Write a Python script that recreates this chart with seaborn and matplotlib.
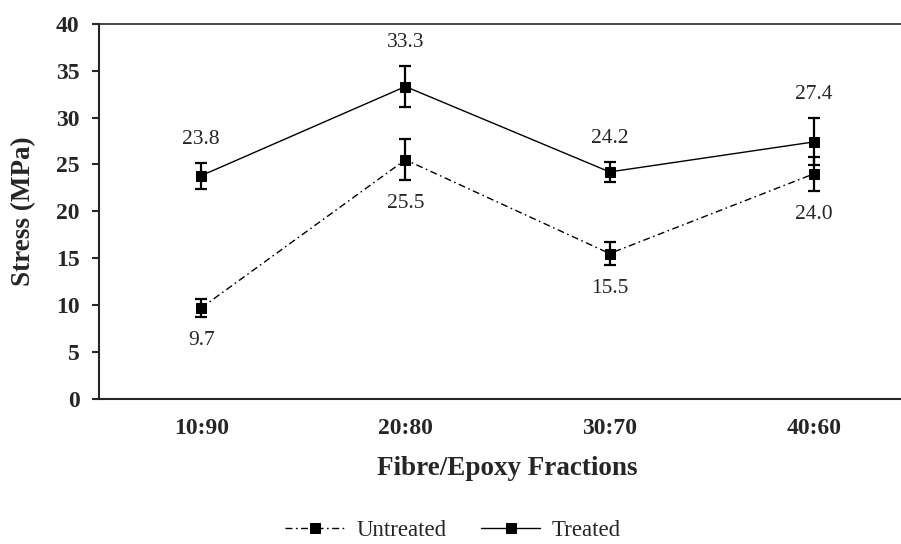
import pandas as pd
import seaborn as sns
import matplotlib.pyplot as plt
import matplotlib

# data
fractions = ["10:90", "20:80", "30:70", "40:60"]
untreated = [9.7, 25.5, 15.5, 24.0]
untreated_err = [1.0, 2.2, 1.2, 1.8]
treated = [23.8, 33.3, 24.2, 27.4]
treated_err = [1.4, 2.2, 1.1, 2.5]

df = pd.DataFrame({
    "Fraction": fractions * 2,
    "Stress": untreated + treated,
    "Series": ["Untreated"] * 4 + ["Treated"] * 4,
})

sns.set_style("ticks")
plt.rcParams['font.family'] = ['Liberation Serif', 'DejaVu Serif']

fig = plt.figure(figsize=(9.01, 5.44), dpi=100)
ax = fig.add_axes([0.1099, 0.2665, 0.9068, 0.690])

sns.lineplot(data=df, x="Fraction", y="Stress", style="Series",
             style_order=["Untreated", "Treated"],
             markers={"Untreated": "s", "Treated": "s"},
             dashes={"Untreated": (5, 2.5, 1.2, 2.5), "Treated": ""},
             color="black", linewidth=1.0, markersize=7,
             markeredgecolor="black", ax=ax, sort=False)

xpos = list(range(len(fractions)))
ax.errorbar(xpos, untreated, yerr=untreated_err, fmt="none", ecolor="black",
            elinewidth=1.6, capsize=4, capthick=1.6, zorder=3)
ax.errorbar(xpos, treated, yerr=treated_err, fmt="none", ecolor="black",
            elinewidth=1.6, capsize=4, capthick=1.6, zorder=3)

# value labels: treated above, untreated below
for x, v, e in zip(xpos, treated, treated_err):
    ax.text(x, v + e + 2.5, f"{v:.1f}", ha="center", va="center", fontsize=15.5)
for x, v, e in zip(xpos, untreated, untreated_err):
    ax.text(x, v - e - 2.5, f"{v:.1f}", ha="center", va="center", fontsize=15.5)

ax.set_xlim(-0.5, 3.5)
ax.set_ylim(0, 40)
ax.set_yticks(range(0, 41, 5))

ax.spines["right"].set_visible(False)
ax.spines["left"].set_linewidth(1.5)
ax.spines["bottom"].set_linewidth(1.5)
ax.spines["top"].set_linewidth(1.2)

ax.tick_params(axis="y", length=5, width=1.5, pad=9, labelsize=17)
ax.tick_params(axis="x", length=0, pad=14, labelsize=17)
for lab in ax.get_xticklabels() + ax.get_yticklabels():
    lab.set_fontweight("bold")

ax.set_xlabel("Fibre/Epoxy Fractions", fontsize=19.5, fontweight="bold", labelpad=12)
ax.set_ylabel("Stress (MPa)", fontsize=19.5, fontweight="bold", labelpad=14)

handles, labels = ax.get_legend_handles_labels()
ax.legend(handles, labels, loc="center", bbox_to_anchor=(0.503, 0.024),
          bbox_transform=fig.transFigure, ncol=2, frameon=False,
          fontsize=16.5, handlelength=2.6, handletextpad=0.5, columnspacing=1.5)

plt.savefig("out.png", dpi=100)
plt.close()
